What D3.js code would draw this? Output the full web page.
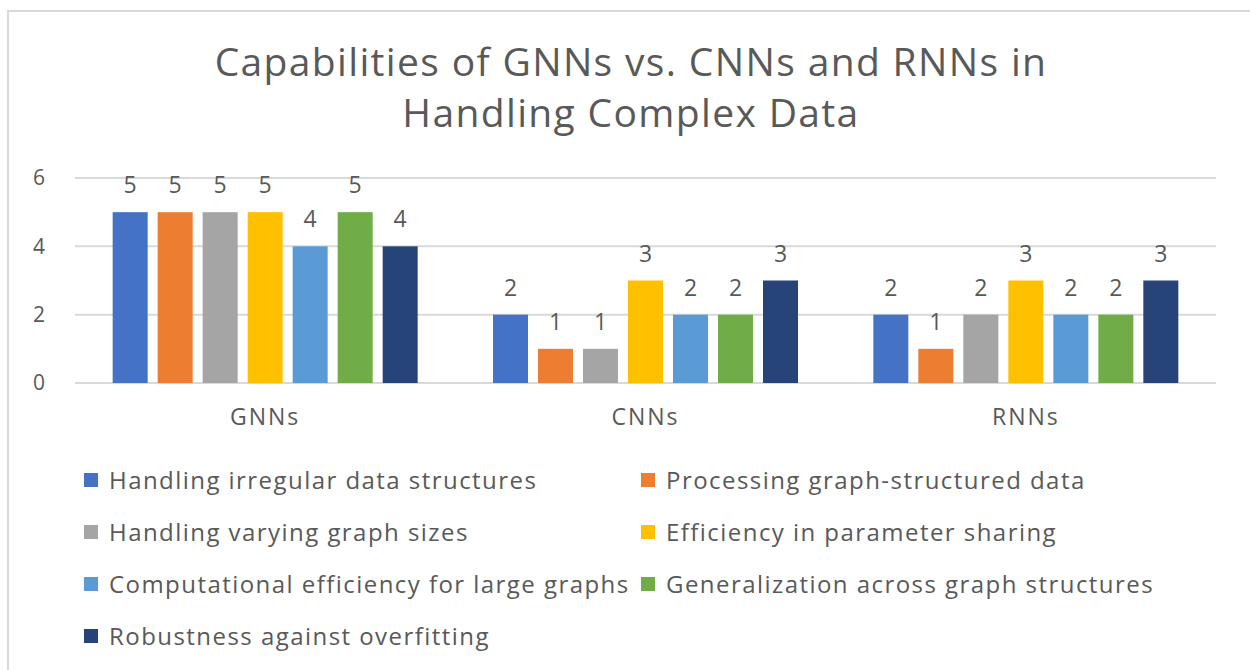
<!DOCTYPE html>
<html>
<head>
<meta charset="utf-8">
<script src="https://cdn.jsdelivr.net/npm/d3@7"></script>
<style>
  body { margin: 0; background: #fff; }
  text { font-family: "Open Sans", "Noto Sans", sans-serif; fill: #595959; }
</style>
</head>
<body>
<div id="chart"></div>
<script>
// data
const categories = ["GNNs", "CNNs", "RNNs"];
const series = [
  "Handling irregular data structures",
  "Processing graph-structured data",
  "Handling varying graph sizes",
  "Efficiency in parameter sharing",
  "Computational efficiency for large graphs",
  "Generalization across graph structures",
  "Robustness against overfitting"
];
const values = [
  [5, 5, 5, 5, 4, 5, 4],   // GNNs
  [2, 1, 1, 3, 2, 2, 3],   // CNNs
  [2, 1, 2, 3, 2, 2, 3]    // RNNs
];
const yTicks = [0, 2, 4, 6];
const colors = ["#4472C4", "#ED7D31", "#A5A5A5", "#FFC000", "#5B9BD5", "#70AD47", "#264478"];
const titleLines = ["Capabilities of GNNs vs. CNNs and RNNs in", "Handling Complex Data"];

const width = 1250, height = 670;
const plot = { left: 75, right: 1216, top: 178, bottom: 383 };

const svg = d3.select("#chart").append("svg")
  .attr("width", width)
  .attr("height", height);

// chart area border (only top/left visible in the crop)
svg.append("rect")
  .attr("x", 8).attr("y", 11)
  .attr("width", 1260).attr("height", 700)
  .attr("fill", "#fff")
  .attr("stroke", "#d9d9d9")
  .attr("stroke-width", 2);

// title
svg.append("g").selectAll("text")
  .data(titleLines)
  .enter().append("text")
  .attr("x", 631)
  .attr("y", (d, i) => 76 + i * 51)
  .attr("text-anchor", "middle")
  .style("font-size", "39px")
  .style("letter-spacing", "1.35px")
  .text(d => d);

const y = d3.scaleLinear().domain([0, 6]).range([plot.bottom, plot.top]);

const x0 = d3.scaleBand()
  .domain(categories)
  .range([plot.left, plot.right]);

const groupW = 305;
const x1 = d3.scaleBand()
  .domain(d3.range(series.length))
  .range([(x0.bandwidth() - groupW) / 2, (x0.bandwidth() + groupW) / 2])
  .paddingInner(10 / 45);

// gridlines
svg.append("g")
  .selectAll("line")
  .data(yTicks)
  .enter().append("line")
  .attr("x1", plot.left).attr("x2", plot.right)
  .attr("y1", d => y(d)).attr("y2", d => y(d))
  .attr("stroke", "#d9d9d9")
  .attr("stroke-width", 2);

// y axis labels
const yAxis = svg.append("g")
  .attr("transform", "translate(45,0)")
  .call(d3.axisLeft(y).tickValues(yTicks).tickFormat(d3.format("d")).tickSize(0).tickPadding(0));
yAxis.select(".domain").remove();
yAxis.selectAll("text")
  .attr("fill", "#595959")
  .style("font-size", "21px")
  .style("font-family", "'Open Sans', sans-serif");

// x axis labels
const xAxis = svg.append("g")
  .attr("transform", "translate(0," + plot.bottom + ")")
  .call(d3.axisBottom(x0).tickSize(0).tickPadding(26));
xAxis.select(".domain").remove();
xAxis.selectAll("text")
  .attr("fill", "#595959")
  .style("font-size", "23px")
  .style("letter-spacing", "2px")
  .style("font-family", "'Open Sans', sans-serif");

// bars
const groups = svg.append("g")
  .selectAll("g")
  .data(values)
  .enter().append("g")
  .attr("transform", (d, i) => "translate(" + x0(categories[i]) + ",0)");

groups.selectAll("rect")
  .data(d => d.map((v, j) => ({ v: v, j: j })))
  .enter().append("rect")
  .attr("x", d => x1(d.j))
  .attr("y", d => y(d.v))
  .attr("width", x1.bandwidth())
  .attr("height", d => y(0) - y(d.v))
  .attr("fill", d => colors[d.j]);

groups.selectAll("text")
  .data(d => d.map((v, j) => ({ v: v, j: j })))
  .enter().append("text")
  .attr("x", d => x1(d.j) + x1.bandwidth() / 2)
  .attr("y", d => y(d.v) - 19)
  .attr("text-anchor", "middle")
  .style("font-size", "23px")
  .text(d => d.v);

// legend, two columns
const legendCols = [84, 641];
const legend = svg.append("g")
  .selectAll("g")
  .data(series)
  .enter().append("g")
  .attr("transform", (d, i) => "translate(" + legendCols[i % 2] + "," + (480 + Math.floor(i / 2) * 52) + ")");

legend.append("rect")
  .attr("x", 0).attr("y", -7)
  .attr("width", 14).attr("height", 14)
  .attr("fill", (d, i) => colors[i]);

legend.append("text")
  .attr("x", 25)
  .attr("y", 9)
  .style("font-size", "24px")
  .style("letter-spacing", "1.45px")
  .text(d => d);
</script>
</body>
</html>
